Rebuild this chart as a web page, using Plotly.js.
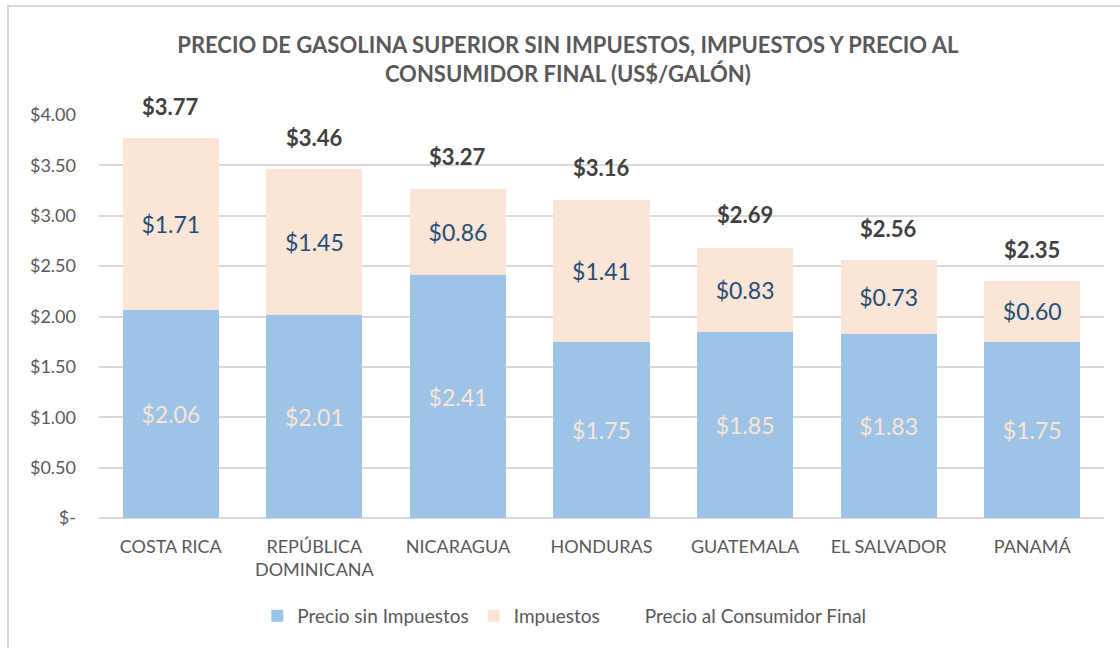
<!DOCTYPE html>
<html>
<head>
<meta charset="utf-8">
<script src="https://cdn.plot.ly/plotly-3.0.1.min.js"></script>
<style>
  html, body { margin: 0; padding: 0; background: #fff; }
  #wrap { position: relative; width: 1120px; height: 648px; overflow: hidden; }
  #frame { position: absolute; left: 7px; top: 5px; width: 1200px; height: 700px;
           border-left: 2px solid #D9D9D9; border-top: 2px solid #D9D9D9; pointer-events: none; }
  #chart { position: absolute; left: 0; top: 0; width: 1120px; height: 648px; }
</style>
</head>
<body>
<div id="wrap">
  <div id="chart"></div>
  <div id="frame"></div>
</div>
<script>
const categories = ['COSTA RICA', 'REPÚBLICA<br>DOMINICANA', 'NICARAGUA', 'HONDURAS', 'GUATEMALA', 'EL SALVADOR', 'PANAMÁ'];
const precioSinImpuestos = [2.06, 2.01, 2.41, 1.75, 1.85, 1.83, 1.75];
const impuestos = [1.71, 1.45, 0.86, 1.41, 0.83, 0.73, 0.60];
const precioFinal = [3.77, 3.46, 3.27, 3.16, 2.69, 2.56, 2.35];
const yTickVals = [0, 0.5, 1, 1.5, 2, 2.5, 3, 3.5, 4];
const yTickText = ['$-', '$0.50', '$1.00', '$1.50', '$2.00', '$2.50', '$3.00', '$3.50', '$4.00'];

const fmt = v => '$' + v.toFixed(2);
const FONT = 'Lato, "Open Sans", sans-serif';

const traces = [
  {
    type: 'bar', name: 'Precio sin Impuestos', x: categories, y: precioSinImpuestos,
    marker: { color: '#9DC3E6', line: { width: 0 } },
    text: precioSinImpuestos.map(fmt), textposition: 'inside', insidetextanchor: 'middle',
    textfont: { family: FONT, size: 23, color: '#FBE5D6' }, constraintext: 'none',
    hoverinfo: 'skip'
  },
  {
    type: 'bar', name: 'Impuestos', x: categories, y: impuestos,
    marker: { color: '#FBE5D6', line: { width: 0 } },
    text: impuestos.map(fmt), textposition: 'inside', insidetextanchor: 'middle',
    textfont: { family: FONT, size: 23, color: '#1F4E79' }, constraintext: 'none',
    hoverinfo: 'skip'
  },
  {
    type: 'scatter', mode: 'markers', name: 'Precio al Consumidor Final', x: categories, y: precioFinal,
    marker: { color: 'rgba(0,0,0,0)', size: 1 }, hoverinfo: 'skip'
  }
];

const annotations = categories.map((c, i) => ({
  x: c, y: precioFinal[i], xref: 'x', yref: 'y',
  text: '<b>' + fmt(precioFinal[i]) + '</b>', showarrow: false,
  yanchor: 'middle', yshift: 32,
  font: { family: FONT, size: 22, color: '#404040' }
}));

const layout = {
  width: 1120, height: 648,
  paper_bgcolor: '#ffffff', plot_bgcolor: '#ffffff',
  margin: { l: 99, r: 16, t: 115, b: 130 },
  barmode: 'stack', bargap: 0.33,
  title: {
    text: '<b>PRECIO DE GASOLINA SUPERIOR SIN IMPUESTOS, IMPUESTOS Y PRECIO AL<br>CONSUMIDOR FINAL (US$/GALÓN)</b>',
    x: 0.507, xanchor: 'center', xref: 'container',
    y: 1 - 53 / 648, yanchor: 'top', yref: 'container',
    font: { family: FONT, size: 22, color: '#595959' }
  },
  xaxis: {
    type: 'category', showgrid: false, zeroline: false, showline: false,
    tickfont: { family: FONT, size: 18, color: '#595959' }, ticks: '', ticklabelstandoff: 16,
    fixedrange: true
  },
  yaxis: {
    range: [0, 4], tickvals: yTickVals, ticktext: yTickText,
    showgrid: true, gridcolor: '#D9D9D9', gridwidth: 2, zeroline: true, zerolinecolor: '#D9D9D9', zerolinewidth: 2,
    showline: false, ticks: '', ticklen: 0, ticklabelstandoff: 22,
    tickfont: { family: FONT, size: 18, color: '#595959' }, fixedrange: true
  },
  legend: {
    orientation: 'h', x: 0.463, xanchor: 'center', y: -0.243, yanchor: 'middle',
    font: { family: FONT, size: 19, color: '#595959' }, traceorder: 'normal'
  },
  annotations: annotations,
  hovermode: false,
  showlegend: true
};

Plotly.newPlot('chart', traces, layout, { displayModeBar: false, staticPlot: true });
</script>
</body>
</html>
